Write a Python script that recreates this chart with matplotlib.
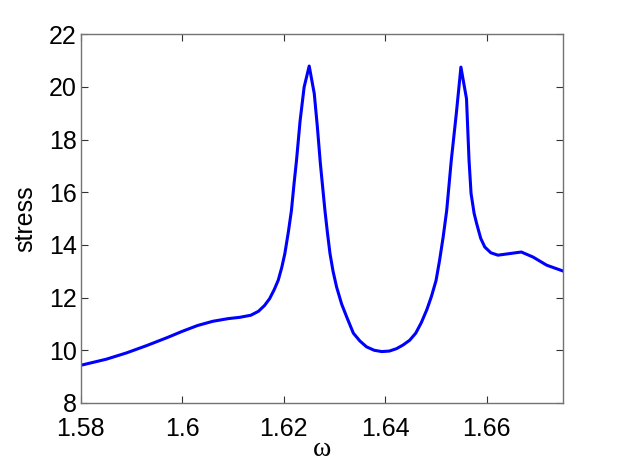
import numpy as np
import matplotlib
matplotlib.use("Agg")
from matplotlib import pyplot as plt

# values
omega = [1.5800, 1.5850, 1.5890, 1.5930, 1.5970, 1.6000, 1.6030, 1.6060, 1.6090,
         1.6113, 1.6135, 1.6150, 1.6162, 1.6172, 1.6181, 1.6189, 1.6196, 1.6202,
         1.6209, 1.6215, 1.6220, 1.6225, 1.6232, 1.6240, 1.6250, 1.6260, 1.6266,
         1.6272, 1.6277, 1.6281, 1.6286, 1.6291, 1.6297, 1.6304, 1.6314, 1.6324,
         1.6337, 1.6350, 1.6363, 1.6378, 1.6393, 1.6408, 1.6422, 1.6435, 1.6448,
         1.6460, 1.6471, 1.6482, 1.6491, 1.6500, 1.6507, 1.6514, 1.6521, 1.6530,
         1.6540, 1.6549, 1.6560, 1.6565, 1.6569, 1.6575, 1.6580, 1.6588, 1.6596,
         1.6608, 1.6622, 1.6645, 1.6668, 1.6691, 1.6718, 1.6750]
stress = [9.43, 9.66, 9.90, 10.18, 10.48, 10.72, 10.94, 11.10, 11.20,
          11.25, 11.33, 11.48, 11.70, 11.96, 12.30, 12.66, 13.15, 13.67,
          14.50, 15.31, 16.30, 17.21, 18.70, 19.99, 20.79, 19.74, 18.50,
          17.09, 16.10, 15.31, 14.45, 13.67, 13.00, 12.40, 11.75, 11.26,
          10.65, 10.35, 10.13, 10.00, 9.95, 9.97, 10.06, 10.20, 10.38,
          10.65, 11.05, 11.55, 12.05, 12.65, 13.42, 14.30, 15.31, 17.21,
          19.00, 20.75, 19.55, 17.21, 15.95, 15.20, 14.81, 14.25, 13.92,
          13.70, 13.61, 13.67, 13.73, 13.54, 13.23, 13.01]

xticks = [1.58, 1.6, 1.62, 1.64, 1.66]
xticklabels = ["1.58", "1.6", "1.62", "1.64", "1.66"]
yticks = [8, 10, 12, 14, 16, 18, 20, 22]

plt.rcParams["font.family"] = ["Liberation Sans", "DejaVu Sans"]

fig = plt.figure(figsize=(6.22, 4.68), dpi=100)
ax = fig.add_axes([0.130, 0.139, 0.775, 0.788])
ax.plot(omega, stress, color=(0, 0, 1), linewidth=2.2)

ax.set_xlim(1.58, 1.675)
ax.set_ylim(8, 22)
ax.set_xticks(xticks)
ax.set_xticklabels(xticklabels)
ax.set_yticks(yticks)
ax.tick_params(direction="in", top=True, right=True, length=5, width=0.8,
               labelsize=18, color="0.2")
ax.tick_params(axis="x", pad=10)
ax.tick_params(axis="y", pad=3)
for s in ax.spines.values():
    s.set_color("0.45")
    s.set_linewidth(1.0)

ax.set_xlabel("ω", fontsize=20, family=["Liberation Serif", "DejaVu Serif"], labelpad=-3)
ax.set_ylabel("stress", fontsize=18, labelpad=8)

fig.savefig("out.png", dpi=100)
